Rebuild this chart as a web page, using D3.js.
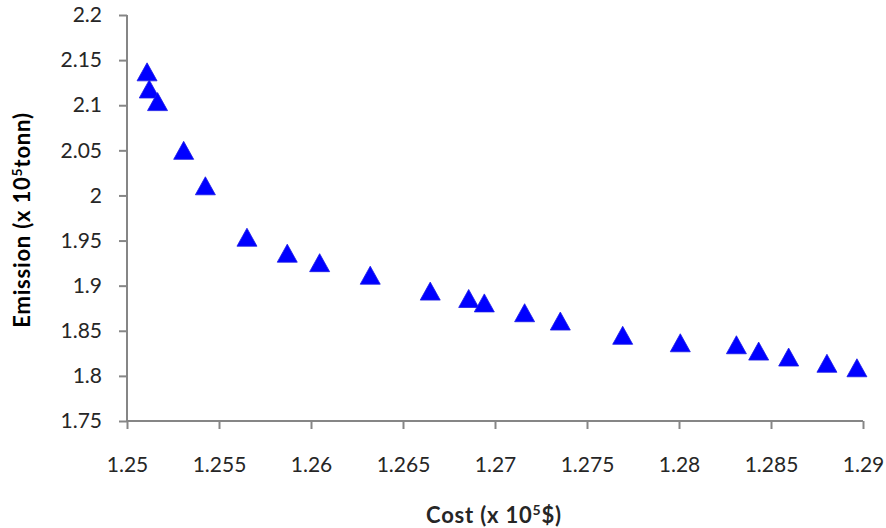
<!DOCTYPE html>
<html>
<head>
<meta charset="utf-8">
<script src="https://cdn.jsdelivr.net/npm/d3@7"></script>
<style>
  html, body { margin: 0; padding: 0; background: #fff; }
  svg { display: block; }
  text { font-family: Lato, "Open Sans", sans-serif; }
</style>
</head>
<body>
<svg id="chart" width="886" height="528"></svg>
<script>
// Data (cost x 1e5 $, emission x 1e5 tonn)
const cost = [1.25109, 1.25121, 1.25166, 1.25308, 1.25426, 1.25652, 1.25871, 1.26047,
              1.26322, 1.26648, 1.26857, 1.26942, 1.27161, 1.27355, 1.27694, 1.28007,
              1.28312, 1.28433, 1.28596, 1.28804, 1.28967];
const emission = [2.137, 2.118, 2.104, 2.050, 2.0107, 1.9537, 1.936, 1.9255,
                  1.9116, 1.894, 1.8858, 1.8809, 1.870, 1.8608, 1.845, 1.8367,
                  1.8345, 1.8275, 1.8209, 1.814, 1.809];
const xTicks = [1.25, 1.255, 1.26, 1.265, 1.27, 1.275, 1.28, 1.285, 1.29];
const yTicks = [1.75, 1.8, 1.85, 1.9, 1.95, 2, 2.05, 2.1, 2.15, 2.2];
const xTitle = "Cost (x 10";
const xTitleSup = "5";
const xTitleEnd = "$)";
const yTitle = "Emission (x 10";
const yTitleSup = "5";
const yTitleEnd = "tonn)";

const svg = d3.select("#chart");
const mLeft = 127, mRight = 863, mTop = 15, mBottom = 421;

const x = d3.scaleLinear().domain([1.25, 1.29]).range([mLeft, mRight]);
const y = d3.scaleLinear().domain([1.75, 2.2]).range([mBottom, mTop]);

const axisColor = "#868686";
const textColor = "#262626";

// Y axis
const gy = svg.append("g").attr("transform", `translate(${mLeft},0)`)
  .call(d3.axisLeft(y).tickValues(yTicks).tickFormat(d3.format("~g"))
        .tickSizeInner(8).tickSizeOuter(0).tickPadding(17));
// X axis
const gx = svg.append("g").attr("transform", `translate(0,${mBottom})`)
  .call(d3.axisBottom(x).tickValues(xTicks).tickFormat(d3.format("~g"))
        .tickSizeInner(8).tickSizeOuter(0).tickPadding(28));

[gx, gy].forEach(g => {
  g.select(".domain").attr("stroke", axisColor).attr("stroke-width", 2);
  g.selectAll(".tick line").attr("stroke", axisColor).attr("stroke-width", 2);
  g.selectAll(".tick text").attr("fill", textColor)
    .style("font-family", "Lato, 'Open Sans', sans-serif").style("font-size", "21px");
});
gy.select(".domain").attr("d", `M0,${mTop}V${mBottom + 1}`);
gx.select(".domain").attr("d", `M${mLeft - 1},0H${mRight}`);

// Markers: triangles centred on their bounding box
const w = 20, h = 18;
const tri = `M0,${-h/2}L${w/2},${h/2}L${-w/2},${h/2}Z`;
svg.append("g").selectAll("path")
  .data(cost.map((c, i) => [c, emission[i]]))
  .join("path")
  .attr("d", tri)
  .attr("transform", d => `translate(${x(d[0])},${y(d[1])})`)
  .attr("fill", "#0000ff")
  .attr("stroke", "#1a1ae6")
  .attr("stroke-width", 0.8);

// X title
const xt = svg.append("text")
  .attr("x", 494).attr("y", 523)
  .attr("text-anchor", "middle")
  .attr("fill", textColor)
  .style("font-size", "22px").style("font-weight", "bold").style("letter-spacing", "0.8px");
xt.append("tspan").text(xTitle);
xt.append("tspan").attr("dy", -8).style("font-size", "14px").text(xTitleSup);
xt.append("tspan").attr("dy", 8).text(xTitleEnd);

// Y title
const yt = svg.append("text")
  .attr("transform", "translate(30,220) rotate(-90)")
  .attr("text-anchor", "middle")
  .attr("fill", "#000")
  .style("font-size", "22px").style("font-weight", "bold").style("letter-spacing", "0.8px");
yt.append("tspan").text(yTitle);
yt.append("tspan").attr("dy", -8).style("font-size", "14px").text(yTitleSup);
yt.append("tspan").attr("dy", 8).text(yTitleEnd);
</script>
</body>
</html>
